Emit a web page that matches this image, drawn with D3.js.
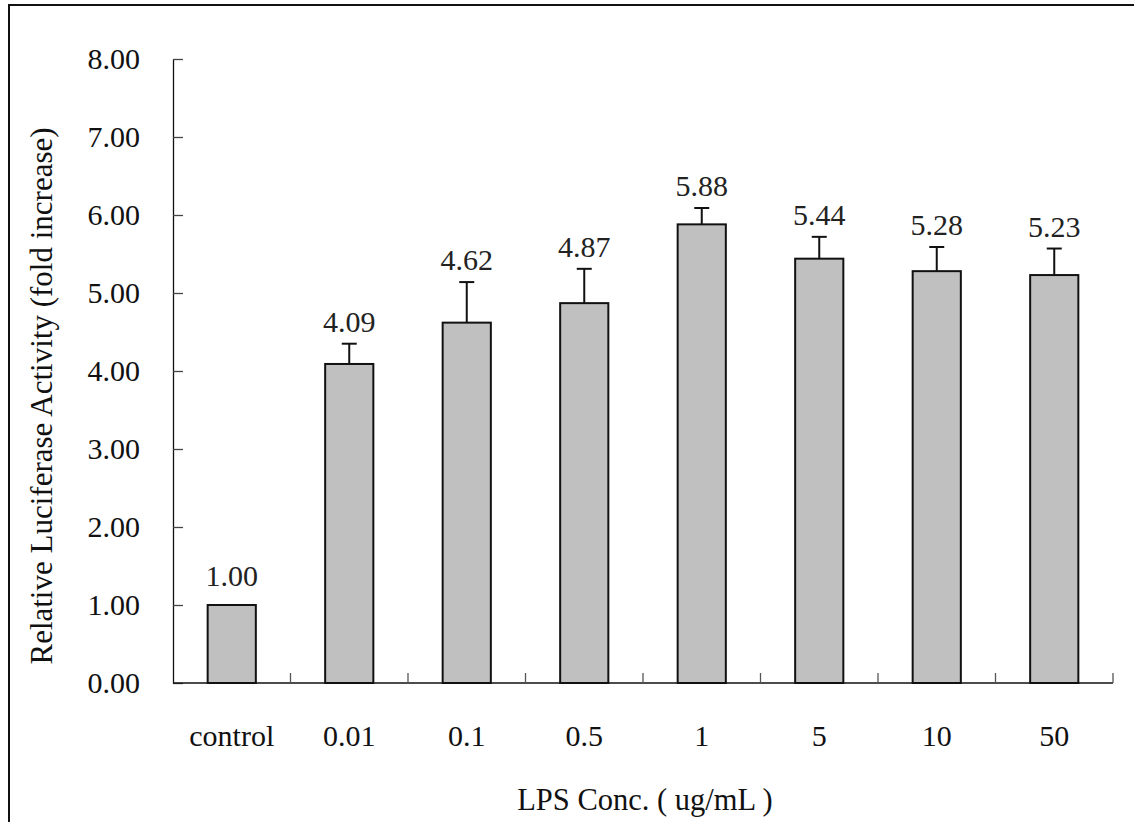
<!DOCTYPE html>
<html>
<head>
<meta charset="utf-8">
<script src="https://cdn.jsdelivr.net/npm/d3@7"></script>
</head>
<body style="margin:0;background:#fff">
<svg id="chart" width="1134" height="822" style="display:block"></svg>
<script>
// LPS dose response of luciferase reporter activity
const categories = ["control", "0.01", "0.1", "0.5", "1", "5", "10", "50"];
const means = [1.00, 4.09, 4.62, 4.87, 5.88, 5.44, 5.28, 5.23];
const errors = [0.00, 0.26, 0.52, 0.44, 0.21, 0.28, 0.31, 0.34];
const yTicks = [0, 1, 2, 3, 4, 5, 6, 7, 8];
const xTitle = "LPS Conc. ( ug/mL )";
const yTitle = "Relative Luciferase Activity (fold increase)";

const FONT = "'Liberation Serif', serif";
const W = 1134, H = 822;
const margin = { top: 59, right: 21, bottom: 139, left: 173 };
const svg = d3.select("#chart").style("font-family", FONT);

// outer frame (left and top edges)
svg.append("path")
  .attr("d", `M9,${H} L9,5 L${W},5`)
  .attr("fill", "none").attr("stroke", "#111").attr("stroke-width", 2);

const x = d3.scaleBand().domain(categories)
  .range([margin.left, W - margin.right]).paddingInner(0.59).paddingOuter(0.295);
const y = d3.scaleLinear().domain([0, 8]).range([H - margin.bottom, margin.top]);

// y axis with inward ticks
const yAxis = svg.append("g").attr("transform", `translate(${margin.left},0)`)
  .call(d3.axisLeft(y).tickValues(yTicks).tickFormat(d3.format(".2f"))
    .tickSizeInner(-10).tickSizeOuter(0).tickPadding(33));
yAxis.attr("font-family", null).attr("font-size", null);
yAxis.select(".domain").attr("stroke", "#111").attr("stroke-width", 1.3);
yAxis.selectAll(".tick line").attr("stroke", "#444").attr("stroke-width", 1.3);
yAxis.selectAll(".tick text")
  .style("font-family", FONT).style("font-size", "30px").attr("fill", "#111");

// x axis: baseline with separator ticks between categories
const x0 = margin.left, bw = x.step();
const xAxis = svg.append("g");
xAxis.append("line")
  .attr("x1", margin.left).attr("x2", W - margin.right)
  .attr("y1", y(0)).attr("y2", y(0))
  .attr("stroke", "#111").attr("stroke-width", 1.5);
xAxis.selectAll("line.sep").data(d3.range(1, categories.length + 1)).enter()
  .append("line").attr("class", "sep")
  .attr("x1", i => x0 + i * bw).attr("x2", i => x0 + i * bw)
  .attr("y1", y(0)).attr("y2", y(0) - 10)
  .attr("stroke", "#555").attr("stroke-width", 1.3);
xAxis.selectAll("text").data(categories).enter().append("text")
  .attr("x", d => x(d) + x.bandwidth() / 2)
  .attr("y", 746)
  .attr("text-anchor", "middle")
  .style("font-family", FONT).style("font-size", "30px").attr("fill", "#111")
  .text(d => d);

// bars
const data = categories.map((c, i) => ({ c, m: means[i], e: errors[i] }));
svg.selectAll("rect.bar").data(data).enter().append("rect")
  .attr("class", "bar")
  .attr("x", d => x(d.c)).attr("width", x.bandwidth())
  .attr("y", d => y(d.m)).attr("height", d => y(0) - y(d.m))
  .attr("fill", "#c0c0c0").attr("stroke", "#111").attr("stroke-width", 2);

// upper error bars
const cap = 7.5;
const eb = svg.selectAll("g.err").data(data).enter().append("g").attr("class", "err");
eb.append("line")
  .attr("x1", d => x(d.c) + x.bandwidth() / 2).attr("x2", d => x(d.c) + x.bandwidth() / 2)
  .attr("y1", d => y(d.m)).attr("y2", d => y(d.m + d.e))
  .attr("stroke", "#111").attr("stroke-width", 2);
eb.append("line")
  .attr("x1", d => x(d.c) + x.bandwidth() / 2 - cap).attr("x2", d => x(d.c) + x.bandwidth() / 2 + cap)
  .attr("y1", d => y(d.m + d.e)).attr("y2", d => y(d.m + d.e))
  .attr("stroke", "#111").attr("stroke-width", 2);

// value labels
svg.selectAll("text.val").data(data).enter().append("text")
  .attr("class", "val")
  .attr("x", d => x(d.c) + x.bandwidth() / 2)
  .attr("y", d => y(d.m + d.e) - (d.e > 0 ? 12 : 19))
  .attr("text-anchor", "middle")
  .style("font-family", FONT).style("font-size", "30px").attr("fill", "#222")
  .text(d => d.m.toFixed(2));

// axis titles
svg.append("text")
  .attr("x", 645).attr("y", 810)
  .attr("text-anchor", "middle")
  .style("font-family", FONT).style("font-size", "30.5px").attr("fill", "#111")
  .text(xTitle);
svg.append("text")
  .attr("transform", "translate(52,396) rotate(-90)")
  .attr("text-anchor", "middle")
  .style("font-family", FONT).style("font-size", "31px").attr("fill", "#111")
  .text(yTitle);
</script>
</body>
</html>
